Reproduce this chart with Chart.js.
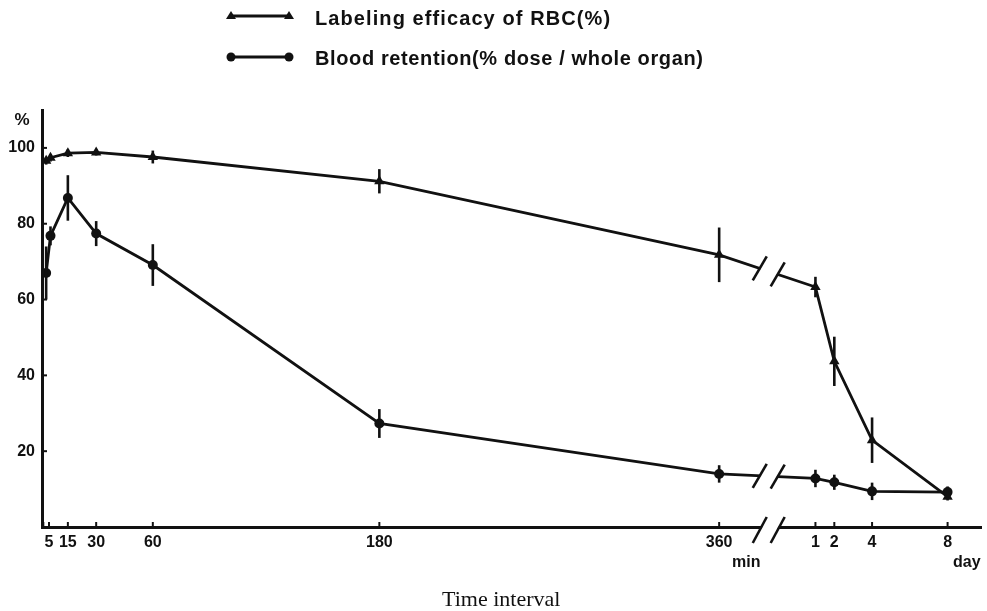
<!DOCTYPE html>
<html>
<head>
<meta charset="utf-8">
<script src="https://cdn.jsdelivr.net/npm/chart.js@4"></script>
<style>
html,body{margin:0;padding:0;background:#fff;}
#c{display:block;}
</style>
</head>
<body>
<canvas id="c" width="987" height="611"></canvas>
<script>
// ---- data ----
const minuteTimes = [3.5, 5.8, 15, 30, 60, 180, 360];
const dayTimes = [1, 2, 4, 8];
const labelingEfficacy = [96.6, 97.4, 98.6, 98.8, 97.6, 91.2, 71.8, 63.3, 43.7, 22.9, 8.0];
const labelingErr      = [1.0, 1.0, 1.0, 0.8, 1.7, 3.2, 7.2, 2.7, 6.5, 6.0, 1.0];
const bloodRetention   = [67.0, 76.8, 86.8, 77.4, 69.1, 27.3, 14.0, 12.8, 11.8, 9.4, 9.2];
const bloodErr         = [7.0, 2.5, 6.0, 3.3, 5.5, 3.8, 2.3, 2.3, 2.0, 2.3, 1.5];
const minuteTicks = [2, 5, 15, 30, 60, 180, 360];
const minuteTickLabels = ['', '5', '15', '30', '60', '180', '360'];
const dayTicks = [1, 2, 4, 8];
const dayTickLabels = ['1', '2', '4', '8'];
const yTicks = [20, 40, 60, 80, 100];
const yTickLabels = ['20', '40', '60', '80', '100'];
const legendLabels = ['Labeling efficacy of RBC(%)', 'Blood retention(% dose / whole organ)'];

// broken time axis: days placed after the minute segment
const DAY_ORIGIN = 401, DAY_UNIT = 10;
const dayToAxis = d => DAY_ORIGIN + DAY_UNIT * d;
const xValues = minuteTimes.concat(dayTimes.map(dayToAxis));
const tickValues = minuteTicks.concat(dayTicks.map(dayToAxis));
const tickLabels = minuteTickLabels.concat(dayTickLabels);
const BREAKS = [381.5, 391];

const INK = '#111';
const FONT = "'Liberation Sans', Arial, sans-serif";
const LW = 2.8;

const pts = arr => arr.map((v, i) => ({x: xValues[i], y: v}));

const errorBars = {
  id: 'errorBars',
  afterDatasetsDraw(chart) {
    const ctx = chart.ctx, ys = chart.scales.y;
    const errs = [labelingErr, bloodErr];
    ctx.save();
    ctx.strokeStyle = INK; ctx.lineWidth = 2.6; ctx.lineCap = 'butt';
    chart.data.datasets.forEach((ds, di) => {
      const meta = chart.getDatasetMeta(di);
      meta.data.forEach((el, i) => {
        const v = ds.data[i].y, e = errs[di][i];
        ctx.beginPath();
        ctx.moveTo(el.x, ys.getPixelForValue(v - e));
        ctx.lineTo(el.x, ys.getPixelForValue(v + e));
        ctx.stroke();
      });
    });
    ctx.restore();
  }
};

const axisMarks = {
  id: 'axisMarks',
  afterDraw(chart) {
    const ctx = chart.ctx, xs = chart.scales.x, ys = chart.scales.y;
    const a = chart.chartArea;
    ctx.save();
    ctx.strokeStyle = INK; ctx.lineWidth = 2;
    // y ticks (inside)
    yTicks.forEach(v => {
      const y = ys.getPixelForValue(v);
      ctx.beginPath(); ctx.moveTo(a.left, y); ctx.lineTo(a.left + 5, y); ctx.stroke();
    });
    // x ticks (upward)
    tickValues.forEach(v => {
      const x = xs.getPixelForValue(v);
      ctx.beginPath(); ctx.moveTo(x, a.bottom); ctx.lineTo(x, a.bottom - 5); ctx.stroke();
    });
    // axis break marks
    const bx = BREAKS.map(v => xs.getPixelForValue(v));
    const crossings = [];
    [0, 1].forEach(di => {
      const meta = chart.getDatasetMeta(di);
      const p1 = meta.data[minuteTimes.length - 1], p2 = meta.data[minuteTimes.length];
      crossings.push({ys: bx.map(x => p1.y + (p2.y - p1.y) * (x - p1.x) / (p2.x - p1.x)), h: 12});
    });
    crossings.push({ys: [a.bottom + 3, a.bottom + 3], h: 13});
    const dx = 7;
    crossings.forEach(c => {
      ctx.fillStyle = '#fff';
      ctx.beginPath();
      ctx.moveTo(bx[0] - dx + 1, c.ys[0] + c.h);
      ctx.lineTo(bx[1] - dx - 1, c.ys[1] + c.h);
      ctx.lineTo(bx[1] + dx - 1, c.ys[1] - c.h);
      ctx.lineTo(bx[0] + dx + 1, c.ys[0] - c.h);
      ctx.closePath(); ctx.fill();
      ctx.lineWidth = 2.6; ctx.strokeStyle = INK;
      bx.forEach((x, k) => {
        ctx.beginPath();
        ctx.moveTo(x - dx, c.ys[k] + c.h);
        ctx.lineTo(x + dx, c.ys[k] - c.h);
        ctx.stroke();
      });
    });
    // texts
    ctx.fillStyle = INK;
    ctx.font = 'bold 17px ' + FONT;
    ctx.textAlign = 'center'; ctx.textBaseline = 'middle';
    ctx.fillText('%', 22, 120);
    ctx.font = 'bold 16px ' + FONT;
    ctx.textAlign = 'left'; ctx.textBaseline = 'alphabetic';
    ctx.fillText('min', 732, 567);
    ctx.fillText('day', 953, 567);
    ctx.font = "22px 'Liberation Serif', 'Times New Roman', serif";
    ctx.fillText('Time interval', 442, 606);
    // legend
    const legendRows = [
      {y: 16, ty: 25, w: 295, style: 'triangle'},
      {y: 57, ty: 65, w: 388, style: 'circle'}
    ];
    legendRows.forEach((r, i) => {
      ctx.strokeStyle = INK; ctx.lineWidth = LW;
      ctx.beginPath(); ctx.moveTo(231, r.y); ctx.lineTo(289, r.y); ctx.stroke();
      [231, 289].forEach(x => {
        ctx.beginPath();
        if (r.style === 'circle') {
          ctx.arc(x, r.y, 4.5, 0, Math.PI * 2);
        } else {
          ctx.moveTo(x, r.y - 5); ctx.lineTo(x + 5, r.y + 3); ctx.lineTo(x - 5, r.y + 3); ctx.closePath();
        }
        ctx.fill();
      });
      ctx.font = 'bold 20px ' + FONT;
      const txt = legendLabels[i];
      const m = ctx.measureText(txt).width;
      const ls = (r.w - m) / (txt.length - 1);
      ctx.letterSpacing = ls.toFixed(2) + 'px';
      ctx.textAlign = 'left';
      ctx.fillText(txt, 315, r.ty);
      ctx.letterSpacing = '0px';
    });
    ctx.restore();
  }
};

new Chart(document.getElementById('c'), {
  type: 'line',
  data: {
    datasets: [
      {
        label: legendLabels[0],
        data: pts(labelingEfficacy),
        borderColor: INK, backgroundColor: INK, borderWidth: LW,
        pointStyle: 'triangle', pointRadius: 6, pointBackgroundColor: INK, pointBorderWidth: 0,
        tension: 0
      },
      {
        label: legendLabels[1],
        data: pts(bloodRetention),
        borderColor: INK, backgroundColor: INK, borderWidth: LW,
        pointStyle: 'circle', pointRadius: 5, pointBackgroundColor: INK, pointBorderWidth: 0,
        tension: 0
      }
    ]
  },
  options: {
    responsive: false,
    animation: false,
    events: [],
    layout: {padding: {top: 110, left: 0, right: 4, bottom: 0}},
    plugins: {legend: {display: false}, tooltip: {enabled: false}, title: {display: false}},
    scales: {
      x: {
        type: 'linear', min: 1.3, max: 498.7,
        afterFit(s) { s.height = 84; },
        afterBuildTicks(s) { s.ticks = tickValues.map(v => ({value: v})); },
        grid: {display: false, drawTicks: false},
        border: {display: true, color: INK, width: 3},
        ticks: {
          autoSkip: false, maxRotation: 0, padding: 6, color: INK,
          font: {family: FONT, size: 16, weight: 'bold'},
          callback(v) { const i = tickValues.indexOf(v); return i >= 0 ? tickLabels[i] : ''; }
        }
      },
      y: {
        min: 0, max: 110,
        afterFit(s) { s.width = 42; },
        afterBuildTicks(s) { s.ticks = yTicks.map(v => ({value: v})); },
        grid: {display: false, drawTicks: false},
        border: {display: true, color: INK, width: 3},
        ticks: {
          padding: 7, color: INK,
          font: {family: FONT, size: 16, weight: 'bold'},
          callback(v) { const i = yTicks.indexOf(v); return i >= 0 ? yTickLabels[i] : ''; }
        }
      }
    }
  },
  plugins: [errorBars, axisMarks]
});
</script>
</body>
</html>
